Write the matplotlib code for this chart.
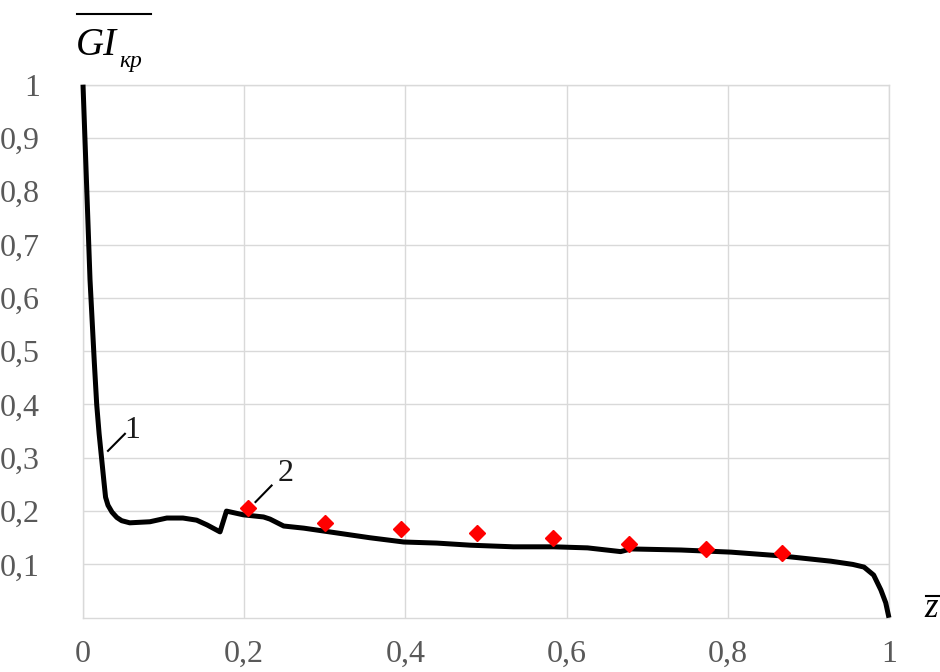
import matplotlib
matplotlib.use("Agg")
import matplotlib.pyplot as plt
from matplotlib.lines import Line2D

# curve 1
z_line = [0.0, 0.0087, 0.014, 0.017, 0.020, 0.023, 0.026, 0.028, 0.031, 0.036,
          0.042, 0.048, 0.058, 0.083, 0.104, 0.124, 0.141, 0.154, 0.170, 0.178,
          0.199, 0.224, 0.232, 0.249, 0.274, 0.315, 0.356, 0.398, 0.439, 0.481,
          0.534, 0.584, 0.626, 0.667, 0.680, 0.742, 0.804, 0.866, 0.928, 0.955,
          0.969, 0.981, 0.990, 0.996, 1.0]
gi_line = [1.0, 0.634, 0.480, 0.400, 0.345, 0.300, 0.255, 0.226, 0.211, 0.198,
           0.188, 0.182, 0.178, 0.180, 0.187, 0.187, 0.183, 0.174, 0.161, 0.200,
           0.193, 0.189, 0.185, 0.172, 0.168, 0.159, 0.150, 0.142, 0.140, 0.136,
           0.133, 0.133, 0.131, 0.124, 0.129, 0.127, 0.123, 0.116, 0.106, 0.100,
           0.095, 0.080, 0.052, 0.028, 0.0]

# points 2
z_pts = [0.205, 0.300, 0.395, 0.489, 0.583, 0.678, 0.773, 0.867]
gi_pts = [0.206, 0.177, 0.166, 0.159, 0.149, 0.138, 0.128, 0.121]

x_ticks = [0, 0.2, 0.4, 0.6, 0.8, 1]
y_ticks = [0.1, 0.2, 0.3, 0.4, 0.5, 0.6, 0.7, 0.8, 0.9, 1]

SERIF = "Liberation Serif"
GRID = "#d9d9d9"
TICK = "#595959"


def label(v):
    s = f"{v:g}"
    return s.replace(".", ",")


fig = plt.figure(figsize=(9.4, 6.72), dpi=100)
ax = fig.add_axes([0.0883, 0.0808, 0.8574, 0.7932])

ax.plot(z_line, gi_line, color="black", lw=3.6, solid_joinstyle="round",
        solid_capstyle="butt", clip_on=False, zorder=3)
ax.plot(z_pts, gi_pts, "D", color="#ff0000", markersize=8, zorder=4)

ax.set_xlim(0, 1)
ax.set_ylim(0, 1)
ax.set_xticks(x_ticks)
ax.set_yticks(y_ticks)
ax.set_xticklabels([label(v) for v in x_ticks])
ax.set_yticklabels([label(v) for v in y_ticks])
ax.tick_params(length=0, labelsize=23, labelcolor=TICK)
ax.tick_params(axis="x", pad=16)
ax.tick_params(axis="y", pad=31)
for t in ax.get_xticklabels() + ax.get_yticklabels():
    t.set_fontfamily(SERIF)
ax.grid(True, color=GRID, lw=1)
for s in ax.spines.values():
    s.set_color(GRID)
    s.set_linewidth(1)

# leader lines and labels
ax.plot([0.031, 0.052], [0.313, 0.345], color="black", lw=1.5)
ax.text(0.061, 0.352, "1", fontsize=23, family=SERIF, color="#1a1a1a",
        ha="center", va="center")
ax.plot([0.214, 0.234], [0.217, 0.248], color="black", lw=1.5)
ax.text(0.251, 0.271, "2", fontsize=23, family=SERIF, color="#1a1a1a",
        ha="center", va="center")

# axis names with overlines (pixel positions -> figure fraction)
W, H = 940.0, 672.0
fig.text(76 / W, 1 - 55 / H, "GI", fontsize=28, family=SERIF, style="italic",
         ha="left", va="baseline")
fig.text(119 / W, 1 - 67 / H, "кр", fontsize=17, family=SERIF, style="italic",
         ha="left", va="baseline")
fig.add_artist(Line2D([77 / W, 151 / W], [1 - 14 / H, 1 - 14 / H],
                      color="black", lw=1.5))
fig.text(924 / W, 1 - 617 / H, "z", fontsize=25, family=SERIF, style="italic",
         ha="left", va="baseline")
fig.add_artist(Line2D([926 / W, 940 / W], [1 - 596 / H, 1 - 596 / H],
                      color="black", lw=1.5))

fig.savefig("out.png", dpi=100)
